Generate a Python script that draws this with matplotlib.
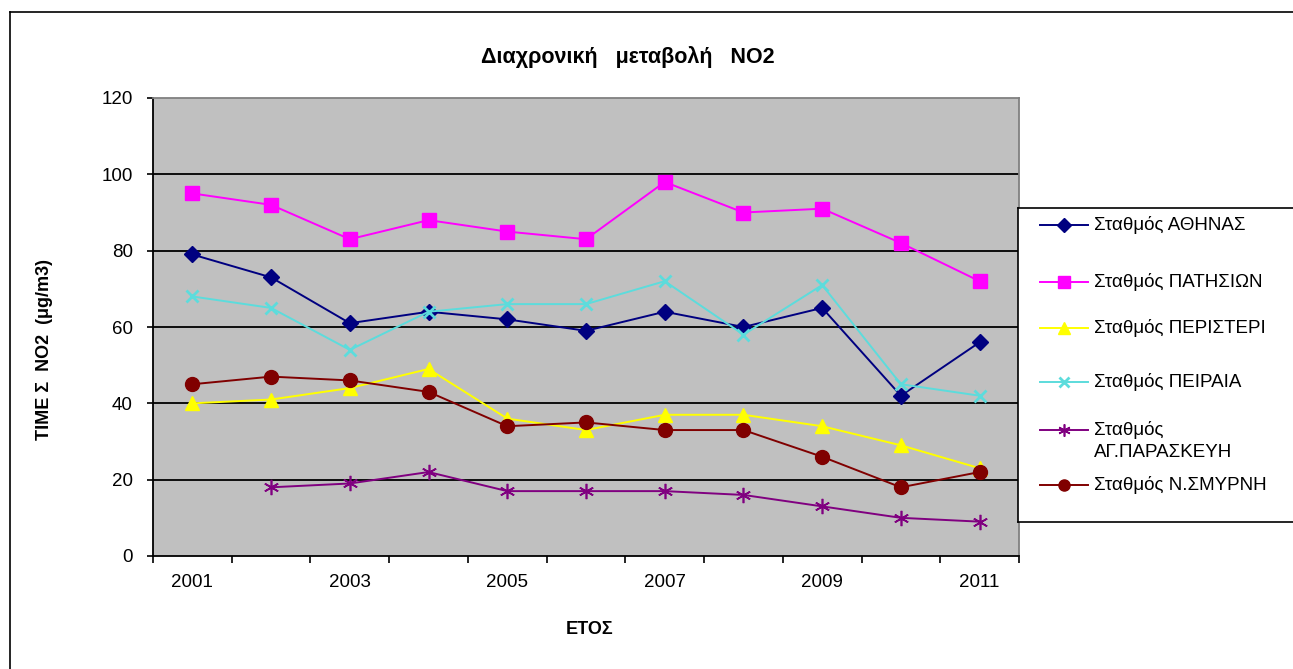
import matplotlib
matplotlib.use("Agg")
import matplotlib.pyplot as plt
from matplotlib.lines import Line2D

plt.rcParams['font.family'] = ['Liberation Sans', 'DejaVu Sans']

# ---- data -------------------------------------------------------------
years = [2001, 2002, 2003, 2004, 2005, 2006, 2007, 2008, 2009, 2010, 2011]
athinas = [79, 73, 61, 64, 62, 59, 64, 60, 65, 42, 56]
patision = [95, 92, 83, 88, 85, 83, 98, 90, 91, 82, 72]
peristeri = [40, 41, 44, 49, 36, 33, 37, 37, 34, 29, 23]
peiraia = [68, 65, 54, 64, 66, 66, 72, 58, 71, 45, 42]
ag_paraskevi = [None, 18, 19, 22, 17, 17, 17, 16, 13, 10, 9]
n_smyrni = [45, 47, 46, 43, 34, 35, 33, 33, 26, 18, 22]

labels = ["Σταθμός ΑΘΗΝΑΣ", "Σταθμός ΠΑΤΗΣΙΩΝ", "Σταθμός ΠΕΡΙΣΤΕΡΙ",
          "Σταθμός ΠΕΙΡΑΙΑ", "Σταθμός\nΑΓ.ΠΑΡΑΣΚΕΥΗ", "Σταθμός Ν.ΣΜΥΡΝΗ"]
title = "Διαχρονική   μεταβολή   ΝΟ2"
ylabel = "ΤΙΜΕ Σ  ΝΟ2  (μg/m3)"
xlabel = "ΕΤΟΣ"
yticks = [0, 20, 40, 60, 80, 100, 120]

series = [athinas, patision, peristeri, peiraia, ag_paraskevi, n_smyrni]
styles = [
    dict(color="#000080", marker="D", ms=8.5, mfc="#000080", mec="#000080", mew=1),
    dict(color="#FF00FF", marker="s", ms=10, mfc="#FF00FF", mec="#FF00FF", mew=1),
    dict(color="#FFFF00", marker="^", ms=10, mfc="#FFFF00", mec="#FFFF00", mew=1),
    dict(color="#5CDCDC", marker="x", ms=8.5, mfc="none", mec="#5CDCDC", mew=2),
    dict(color="#800080", marker=(6, 2, 0), ms=11, mfc="none", mec="#800080", mew=1.2),
    dict(color="#800000", marker="o", ms=10, mfc="#800000", mec="#800000", mew=1),
]

W, H = 1293, 669
fig = plt.figure(figsize=(W / 100, H / 100), dpi=100)
fig.patch.set_facecolor("white")

# outer chart frame (top and left edges visible)
fig.add_artist(Line2D([10 / W, 10 / W], [0, 1 - 12 / H], transform=fig.transFigure,
                      color="black", lw=1.2))
fig.add_artist(Line2D([10 / W, 1], [1 - 12 / H, 1 - 12 / H], transform=fig.transFigure,
                      color="black", lw=1.2))

# ---- plot area --------------------------------------------------------
x0, x1, y0, y1 = 153, 1019, 98, 556
ax = fig.add_axes([x0 / W, 1 - y1 / H, (x1 - x0) / W, (y1 - y0) / H])
ax.set_facecolor("#C0C0C0")
xs = list(range(len(years)))

for vals, st in zip(series, styles):
    px = [x for x, v in zip(xs, vals) if v is not None]
    py = [v for v in vals if v is not None]
    ax.plot(px, py, lw=1.4, zorder=3, **st)

ax.set_xlim(-0.5, len(years) - 0.5)
ax.set_ylim(0, 120)
ax.set_yticks(yticks)
ax.set_yticklabels([str(t) for t in yticks], fontsize=13.5)
for t in yticks[1:-1]:
    ax.axhline(t, color="black", lw=1.3, zorder=1)

ax.set_xticks(xs[::2])
ax.set_xticklabels([str(y) for y in years[::2]], fontsize=13.5)
ax.set_xticks([x - 0.5 for x in range(len(years) + 1)], minor=True)
ax.tick_params(axis="x", which="major", length=0, pad=13)
ax.tick_params(axis="x", which="minor", length=5, width=1.2, direction="out")
ax.tick_params(axis="y", length=4.5, width=1.2, direction="out", pad=10)

for side in ("left", "bottom"):
    ax.spines[side].set_color("black")
    ax.spines[side].set_linewidth(1.3)
for side in ("top", "right"):
    ax.spines[side].set_color("#808080")
    ax.spines[side].set_linewidth(1.3)

fig.text(628 / W, 1 - 57 / H, title, ha="center", va="center",
         fontsize=15.5, fontweight="bold")
fig.text(45 / W, 1 - 350 / H, ylabel, ha="center", va="center",
         rotation=90, fontsize=13, fontweight="bold")
fig.text(590 / W, 1 - 630 / H, xlabel, ha="center", va="center",
         fontsize=13, fontweight="bold")

# ---- legend box -------------------------------------------------------
lx0, lx1, ly0, ly1 = 1018, 1300, 208, 522
lax = fig.add_axes([lx0 / W, 1 - ly1 / H, (lx1 - lx0) / W, (ly1 - ly0) / H])
lax.set_xlim(lx0, lx1)
lax.set_ylim(ly1, ly0)
lax.set_facecolor("white")
for s in lax.spines.values():
    s.set_color("black")
    s.set_linewidth(1.2)
lax.set_xticks([])
lax.set_yticks([])
rows = [225, 282, 328, 382, 430, 485]
for row, lab, st in zip(rows, labels, styles):
    lax.plot([1040, 1088], [row, row], lw=1.4, color=st["color"])
    mk = {k: v for k, v in st.items() if k != "color"}
    mk["ms"] = st["ms"] * 0.8
    lax.plot([1064], [row], ls="none", color=st["color"], **mk)
    lax.text(1094, row - 9, lab, ha="left", va="top", fontsize=13.5,
             linespacing=1.4)

fig.savefig("out.png", dpi=100)
